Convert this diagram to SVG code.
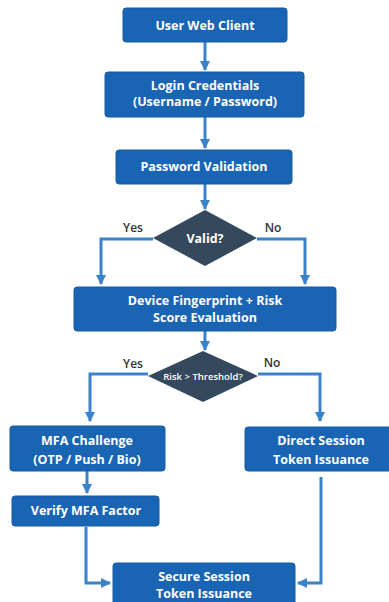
<svg xmlns="http://www.w3.org/2000/svg" width="389" height="602" viewBox="0 0 389 602">
<defs>
<marker id="ah" viewBox="0 0 10 10" refX="9" refY="5" markerWidth="3.4" markerHeight="3.4" orient="auto" markerUnits="strokeWidth">
<path d="M0,0 L10,5 L0,10 z" fill="#3a82c9"/>
</marker>
<style>
.box{fill:#1a64b4;stroke:#155aa3;stroke-width:1}
.dia{fill:#34495d}
.t{font-family:"Open Sans","Noto Sans",sans-serif;font-weight:bold;font-size:12.5px;fill:#ffffff;text-anchor:middle}
.ts{font-family:"Open Sans","Noto Sans",sans-serif;font-weight:600;font-size:9.5px;fill:#ffffff;text-anchor:middle}
.lbl{font-family:"Open Sans","Noto Sans",sans-serif;font-weight:600;font-size:12px;fill:#333333;text-anchor:middle}
.c{fill:none;stroke:#3a82c9;stroke-width:3;marker-end:url(#ah)}
</style>
</defs>
<rect width="389" height="602" fill="#ffffff"/>
<g id="connectors">
<path class="c" d="M205,42 V70"/>
<path class="c" d="M205,117 V148"/>
<path class="c" d="M205,184 V209"/>
<path class="c" d="M153,239 H101 V284"/>
<path class="c" d="M257,239 H305 V284"/>
<path class="c" d="M205,331 V350"/>
<path class="c" d="M148,374 H90 V421"/>
<path class="c" d="M258,374 H320 V421"/>
<path class="c" d="M87,471 V493"/>
<path class="c" d="M86,527 V583 H110"/>
<path class="c" d="M321,477 V583 H298"/>
</g>
<g id="n1"><rect class="box" x="123" y="8" width="164" height="34" rx="3"/><text class="t" x="205" y="30">User Web Client</text></g>
<g id="n2"><rect class="box" x="105" y="72" width="199" height="45" rx="3"/><text class="t" x="205" y="90">Login Credentials</text><text class="t" x="205" y="106">(Username / Password)</text></g>
<g id="n3"><rect class="box" x="116" y="150" width="176" height="34" rx="3"/><text class="t" x="204" y="171">Password Validation</text></g>
<g id="n4"><polygon class="dia" points="205,210 257,238 205,266 153,238"/><text class="t" x="205" y="243">Valid?</text></g>
<text class="lbl" x="133" y="232">Yes</text>
<text class="lbl" x="273" y="232">No</text>
<g id="n5"><rect class="box" x="74" y="287" width="262" height="44" rx="3"/><text class="t" x="205" y="305">Device Fingerprint + Risk</text><text class="t" x="205" y="322">Score Evaluation</text></g>
<g id="n6"><polygon class="dia" points="203,351 258,376 203,402 148,376"/><text class="ts" x="203" y="379.5">Risk &gt; Threshold?</text></g>
<text class="lbl" x="133" y="368">Yes</text>
<text class="lbl" x="272" y="367">No</text>
<g id="n7"><rect class="box" x="10" y="426" width="155" height="45" rx="3"/><text class="t" x="87" y="445">MFA Challenge</text><text class="t" x="87" y="464">(OTP / Push / Bio)</text></g>
<g id="n8"><rect class="box" x="245" y="427" width="150" height="44" rx="3"/><text class="t" x="321" y="445">Direct Session</text><text class="t" x="321" y="464">Token Issuance</text></g>
<g id="n9"><rect class="box" x="12" y="496" width="147" height="30" rx="3"/><text class="t" x="86" y="515">Verify MFA Factor</text></g>
<g id="n10"><rect class="box" x="113" y="563" width="182" height="45" rx="3"/><text class="t" x="204" y="581">Secure Session</text><text class="t" x="204" y="598">Token Issuance</text></g>
</svg>
